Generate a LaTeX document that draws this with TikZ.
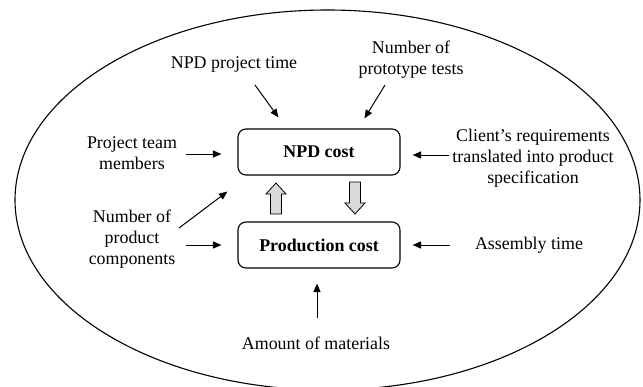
\documentclass[tikz,border=0pt]{standalone}
\usepackage{fontspec}
\setmainfont{Liberation Serif}
\usetikzlibrary{arrows.meta,calc}
\begin{document}
\begin{tikzpicture}[x=1pt,y=-1pt,
  every node/.style={font=\fontsize{17.9}{21}\selectfont, align=center, inner sep=2pt},
  costbox/.style={draw, line width=1.1pt, rounded corners=8pt, minimum width=162pt, minimum height=46pt, font=\fontsize{17.9}{21}\selectfont\bfseries},
  arr/.style={line width=1pt, -{Triangle[length=8.5pt,width=7pt]}},
  blockarrow/.style={draw, line width=0.8pt, fill=gray!30, line join=miter}
]
\useasboundingbox (0,0) rectangle (643,386);
\draw[line width=1.1pt] (327.5,200) ellipse [x radius=312.5pt, y radius=190pt];

\node[costbox] (npd) at (319,152) {NPD cost};
\node[costbox] (prod) at (319,245) {Production cost};

\node (team) at (132,153) {Project team\\members};
\node (time) at (234,64) {NPD project time};
\node (proto) at (411,60) {Number of\\prototype tests};
\node (client) at (533,158) {Client’s requirements\\translated into product\\specification};
\node (comp) at (132,239) {Number of\\product\\components};
\node (asm) at (529,245) {Assembly time};
\node (mat) at (316,343) {Amount of materials};

% tails (free ends)
\coordinate (tTeam) at (186,154);
\coordinate (tComp) at (186,245);
\coordinate (tDiag) at (179,228);
\coordinate (tTime) at (255,85);
\coordinate (tProto) at (385,85);
\coordinate (tClient) at (449,155);
\coordinate (tAsm) at (450,245);
\coordinate (tMat) at (317,318);

\draw[arr] (tTeam) -- ($(npd.west)+(-16,2)$);
\draw[arr] (tComp) -- ($(prod.west)+(-16,0)$);
\draw[arr] (tDiag) -- ($(npd.south west)+(-10,16)$);
\draw[arr] (tTime) -- ($(npd.north west)+(41,-11)$);
\draw[arr] (tProto) -- ($(npd.north west)+(127,-10)$);
\draw[arr] (tClient) -- ($(npd.east)+(12,3)$);
\draw[arr] (tAsm) -- ($(prod.east)+(12,0)$);
\draw[arr] (tMat) -- ($(prod.south)+(-2,15)$);

% hollow block arrows between the cost boxes
\draw[blockarrow] (270.5,214) -- (270.5,194) -- (266,194) -- (276,183) -- (286,194) -- (281.5,194) -- (281.5,214) -- cycle;
\draw[blockarrow] (349.5,182) -- (360.5,182) -- (360.5,203) -- (365,203) -- (355,214) -- (345,203) -- (349.5,203) -- cycle;
\end{tikzpicture}
\end{document}
